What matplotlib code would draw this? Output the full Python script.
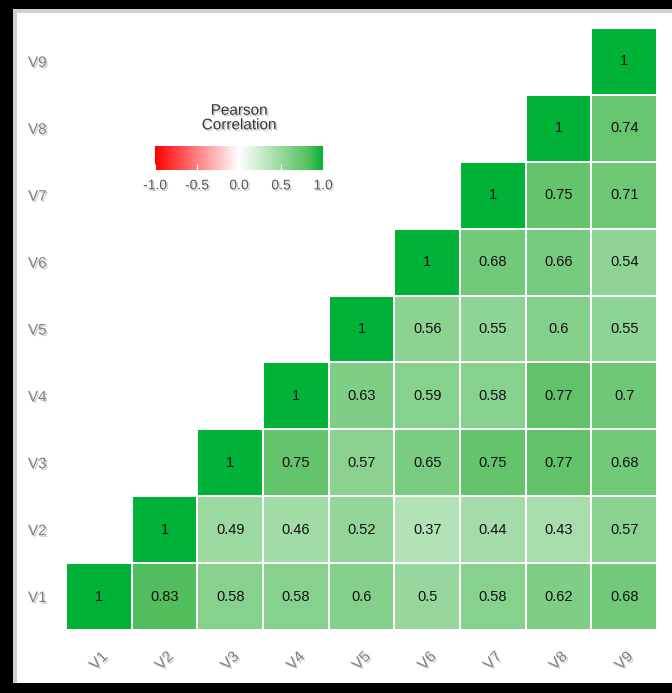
import numpy as np
import matplotlib
matplotlib.use("Agg")
import matplotlib.pyplot as plt
import matplotlib.patheffects as pe
from matplotlib.colors import LinearSegmentedColormap
from matplotlib.patches import Rectangle

labels = ["V1", "V2", "V3", "V4", "V5", "V6", "V7", "V8", "V9"]
row_V1 = [1, 0.83, 0.58, 0.58, 0.6, 0.5, 0.58, 0.62, 0.68]
row_V2 = [1, 0.49, 0.46, 0.52, 0.37, 0.44, 0.43, 0.57]
row_V3 = [1, 0.75, 0.57, 0.65, 0.75, 0.77, 0.68]
row_V4 = [1, 0.63, 0.59, 0.58, 0.77, 0.7]
row_V5 = [1, 0.56, 0.55, 0.6, 0.55]
row_V6 = [1, 0.68, 0.66, 0.54]
row_V7 = [1, 0.75, 0.71]
row_V8 = [1, 0.74]
row_V9 = [1]
rows = [row_V1, row_V2, row_V3, row_V4, row_V5, row_V6, row_V7, row_V8, row_V9]

n = len(labels)
M = np.full((n, n), np.nan)
for i, r in enumerate(rows):
    for k, v in enumerate(r):
        M[i, i + k] = v
Mm = np.ma.masked_invalid(M)

cmap = LinearSegmentedColormap.from_list(
    "pc", [(0.0, "#FF0000"), (0.5, "#FFFFFF"), (0.915, "#55BE5E"), (1.0, "#00B238")])

fig = plt.figure(figsize=(6.72, 6.93), dpi=100)
fig.patch.set_facecolor("white")

W, H = 672, 693
ax = fig.add_axes([66 / W, 1 - 630 / H, 591 / W, 602 / H])
mesh = ax.pcolormesh(np.arange(n + 1) - 0.5, np.arange(n + 1) - 0.5, Mm, cmap=cmap,
                     vmin=-1, vmax=1, edgecolors="white", linewidth=1.2)
for i in range(n):
    for j in range(n):
        if not np.isnan(M[i, j]):
            v = M[i, j]
            txt = "1" if v == 1 else ("%g" % v)
            ax.text(j, i, txt, ha="center", va="center", fontsize=10.5,
                    color="#111111", family="Liberation Sans")
ax.set_xlim(-0.5, n - 0.5)
ax.set_ylim(-0.5, n - 0.5)
for s in ax.spines.values():
    s.set_visible(False)
ax.tick_params(length=0)
txt_shadow = [pe.SimplePatchShadow(offset=(1.2, -1.2), shadow_rgbFace="#bbbbbb", alpha=0.7),
              pe.Normal()]
ax.set_xticks(range(n))
ax.set_xticklabels(labels, rotation=45, ha="center", va="top", fontsize=11,
                   color="#808080", family="Liberation Sans")
ax.set_yticks(range(n))
ax.set_yticklabels(labels, fontsize=11, color="#808080", family="Liberation Sans")
ax.tick_params(axis="x", pad=14)
ax.tick_params(axis="y", pad=14)
for t in ax.get_xticklabels() + ax.get_yticklabels():
    t.set_path_effects(txt_shadow)

# colorbar
cax = fig.add_axes([155 / W, 1 - 170 / H, 168 / W, 24 / H])
cb = fig.colorbar(mesh, cax=cax, orientation="horizontal", ticks=[-1, -0.5, 0, 0.5, 1])
cb.outline.set_visible(False)
cb.set_ticklabels(["-1.0", "-0.5", "0.0", "0.5", "1.0"])
cax.tick_params(length=4, color="white", direction="in", labelsize=10,
                labelcolor="#555555", pad=6)
for t in cax.get_xticklabels():
    t.set_family("Liberation Sans")
    t.set_path_effects(txt_shadow)
fig.text(239 / W, 1 - 118 / H, "Pearson\nCorrelation", ha="center", va="center",
         fontsize=11, color="#333333", family="Liberation Sans", linespacing=1.05,
         path_effects=txt_shadow)

# outer black frame (left, top, bottom)
fig.patches.append(Rectangle((0, 0), 13 / W, 1, transform=fig.transFigure,
                             facecolor="black", edgecolor="none", zorder=10))
fig.patches.append(Rectangle((0, 1 - 9 / H), 1, 9 / H, transform=fig.transFigure,
                             facecolor="black", edgecolor="none", zorder=10))
fig.patches.append(Rectangle((0, 0), 1, 10 / H, transform=fig.transFigure,
                             facecolor="black", edgecolor="none", zorder=10))
# faint inner shadow
fig.patches.append(Rectangle((13 / W, 10 / H), 4 / W, 1 - 19 / H, transform=fig.transFigure,
                             facecolor="#d0d0d0", edgecolor="none", zorder=9))
fig.patches.append(Rectangle((13 / W, 1 - 13 / H), 1, 4 / H, transform=fig.transFigure,
                             facecolor="#d0d0d0", edgecolor="none", zorder=9))

fig.savefig("out.png", dpi=100)
